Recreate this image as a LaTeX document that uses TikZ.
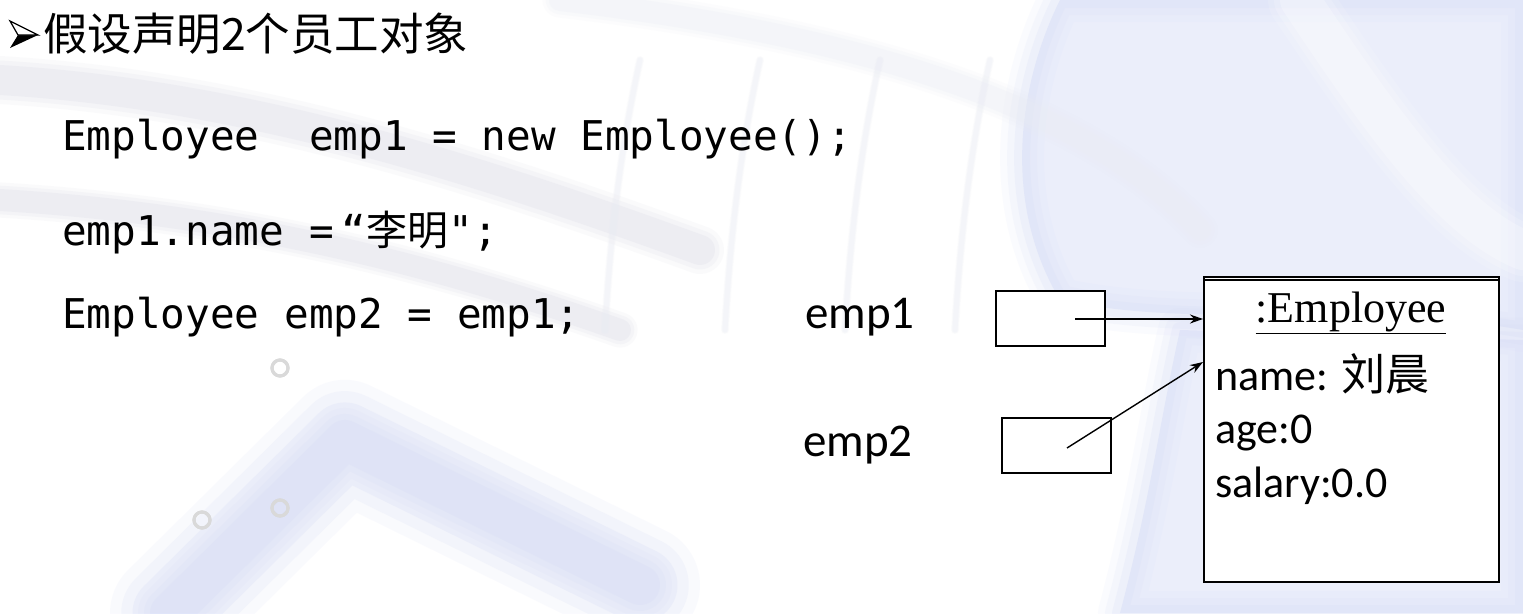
\documentclass[tikz,border=0pt]{standalone}
\usepackage{fontspec}
\setmainfont{Carlito}
\newfontfamily\cjk{Noto Sans CJK SC}
\newfontfamily\codefont{DejaVu Sans Mono}
\newfontfamily\serifont{Liberation Serif}
\usetikzlibrary{arrows.meta,calc}
\definecolor{bluebg}{RGB}{212,218,246}
\definecolor{greybg}{RGB}{218,220,230}
\definecolor{keyline}{RGB}{234,236,244}
% a shape with soft, blurred edges
\newcommand\softshape[2]{%
  \foreach \w/\o in {44/0.10,30/0.14,16/0.2}{\draw[#1, opacity=\o, line width=\w pt, line join=round, line cap=round] #2;}%
  \fill[#1, opacity=0.45] #2;}
\newcommand\softstroke[3]{%
  \foreach \w/\o in {1.6/0.12,1.3/0.18,1.0/0.25}{\draw[#1, opacity=\o, line width=\w*#2, line join=round, line cap=round] #3;}}
\tikzset{
  codeline/.style={anchor=base west, inner sep=0pt, font=\codefont\fontsize{41}{41}\selectfont},
  reflabel/.style={anchor=base west, inner sep=0pt, font=\fontsize{47}{47}\selectfont},
  refbox/.style={draw=black, line width=1.8pt, fill=white, minimum width=109pt, minimum height=55pt, inner sep=0pt},
  field/.style={anchor=base west, inner sep=0pt, font=\fontsize{44}{44}\selectfont},
  pointer/.style={line width=1.4pt, -{Stealth[length=13pt,width=9pt]}},
}
\begin{document}
\begin{tikzpicture}[x=1pt,y=-1pt]
\useasboundingbox (0,0) rectangle (1523,613);
\fill[white] (0,0) rectangle (1523,613);

% blurred keyboard backdrop
\softshape{bluebg}{(1060,0) -- (1523,0) -- (1523,330) .. controls (1350,300) and (1200,330) .. (1060,300) .. controls (1000,200) and (1020,80) .. (1060,0) -- cycle}
\softshape{bluebg}{(1180,330) -- (1523,340) -- (1523,613) -- (1120,613) .. controls (1150,500) and (1160,420) .. (1180,330) -- cycle}
\softstroke{white}{40pt}{(1300,0) .. controls (1380,120) and (1450,220) .. (1523,250)}
\softstroke{bluebg}{75pt}{(170,613) -- (345,440) -- (640,585)}
\softstroke{bluebg}{40pt}{(170,613) -- (345,440) -- (640,585)}
\softstroke{greybg}{30pt}{(0,80) .. controls (250,95) and (480,170) .. (700,250)}
\softstroke{greybg}{22pt}{(0,200) .. controls (250,215) and (450,270) .. (620,330)}
\softstroke{keyline}{22pt}{(560,0) .. controls (900,40) and (1100,120) .. (1200,230)}
\foreach \x in {640,760,880,990}
  \softstroke{keyline}{5pt}{(\x,60) .. controls (\x-20,150) and (\x-30,240) .. (\x-35,330)}
\foreach \cx/\cy in {280/368, 280/508, 202/520}
  \draw[gray!30, line width=3pt, opacity=0.7] (\cx,\cy) circle (8pt);

% heading with its arrowhead bullet
\coordinate (btip) at (38,35);
\fill[black] (10,48) -- (18,35) -- (btip) -- cycle;
\filldraw[fill=white, draw=black, line width=1.2pt, line join=miter] (10,21) -- (btip) -- (18,35) -- cycle;
\node[anchor=base west, inner sep=0pt, font=\cjk\fontsize{44.5}{44.5}\selectfont] (heading) at (43,50) {假设声明2个员工对象};

% code
\node[codeline] (line1) at (62,150) {Employee\ \ emp1 = new Employee();};
\node[codeline] (line2) at (62,245) {emp1.name =\hspace{8pt}“{\cjk 李明}";};
\node[codeline] (line3) at (62,328) {Employee emp2 = emp1;};

% reference variables
\node[reflabel] (lab1) at (805,328) {emp1};
\node[reflabel] (lab2) at (803,456) {emp2};
\node[refbox, anchor=north west] (box1) at (995,290) {};
\node[refbox, anchor=north west] (box2) at (1001,417) {};

% object
\node[draw=black, line width=2.2pt, fill=white, anchor=north west, minimum width=295pt, minimum height=305pt, inner sep=0pt] (obj) at (1203,276) {};
\draw[line width=1.5pt] ($(obj.north west)+(0,4)$) -- ($(obj.north east)+(0,4)$);
\node[anchor=base, inner sep=0pt, font=\serifont\fontsize{44}{44}\selectfont] (cls) at (1351,322) {\underline{:Employee}};
\node[field] (fname) at (1215,390) {name: {\cjk 刘晨}};
\node[field] (fage) at (1215,443) {age:0};
\node[field] (fsal) at (1215,497) {salary:0.0};

% pointers
\coordinate (p1) at (1075,319);
\coordinate (p2) at (1067,448);
\coordinate (q2) at ($(obj.north west)+(0,86)$);
\draw[pointer] (p1) -- (obj.west |- p1);
\draw[pointer] (p2) -- (q2);
\end{tikzpicture}
\end{document}
